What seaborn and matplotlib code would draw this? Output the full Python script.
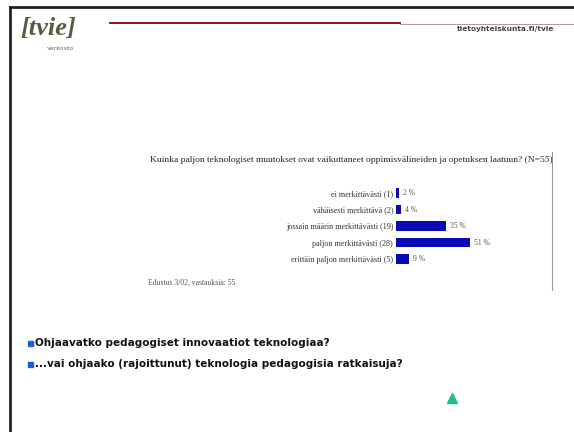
import matplotlib
matplotlib.use("Agg")
import matplotlib.pyplot as plt
import seaborn as sns
import pandas as pd
from matplotlib.lines import Line2D
from matplotlib.patches import Rectangle

# survey answers (counts and shown percentages)
categories = [
    "ei merkittävästi (1)",
    "vähäisesti merkittävä (2)",
    "jossain määrin merkittävästi (19)",
    "paljon merkittävästi (28)",
    "erittäin paljon merkittävästi (5)",
]
counts = [1, 2, 19, 28, 5]
pct_labels = ["2 %", "4 %", "35 %", "51 %", "9 %"]

chart_title = ("Kuinka paljon teknologiset muutokset ovat vaikuttaneet "
               "oppimisvälineiden ja opetuksen laatuun? (N=55)")
chart_note = "Edustus 3/02, vastauksia: 55"
bullets = [
    "Ohjaavatko pedagogiset innovaatiot teknologiaa?",
    "...vai ohjaako (rajoittunut) teknologia pedagogisia ratkaisuja?",
]

df = pd.DataFrame({"vastaus": categories, "n": counts})

W, H = 574, 432
fig = plt.figure(figsize=(W / 100, H / 100), dpi=100)
fig.patch.set_facecolor("white")


def fx(px):
    return px / W


def fy(py):
    return 1 - py / H


# slide frame
fig.add_artist(Line2D([fx(10), fx(10)], [fy(7), 0], color="#222222", lw=2))
fig.add_artist(Line2D([fx(10), 1], [fy(7), fy(7)], color="#222222", lw=2))

# header: logo, red rule, right caption
fig.text(fx(20), fy(29), "[tvie]", fontsize=19, fontweight="bold", style="italic",
         family="Liberation Serif", color="#5a5a40", va="center", ha="left")
fig.text(fx(60), fy(48), "verkosto", fontsize=4.5, color="#666655", va="center", ha="center")
fig.add_artist(Line2D([fx(110), fx(400)], [fy(23), fy(23)], color="#8b1515", lw=1.4))
fig.add_artist(Line2D([fx(400), 1], [fy(24), fy(24)], color="#b08080", lw=0.6))
fig.text(fx(506), fy(29), "tietoyhteiskunta.fi/tvie", fontsize=5.3, fontweight="bold",
         color="#444444", va="center", ha="center")

# embedded chart title, note and frame line
fig.text(fx(150), fy(160), chart_title, fontsize=6.8, family="Liberation Serif",
         color="#222222", va="center", ha="left")
fig.text(fx(148), fy(283), chart_note, fontsize=5.5, family="Liberation Serif",
         color="#555555", va="center", ha="left")
fig.add_artist(Line2D([fx(552), fx(552)], [fy(152), fy(290)], color="#999999", lw=0.8))

# bar chart
ax = fig.add_axes([fx(396), fy(267.25), fx(150), 82.5 / H])
sns.barplot(data=df, y="vastaus", x="n", orient="h", color="#0a0ab4",
            width=0.58, ax=ax, saturation=1)
ax.set_xlim(0, 28 * 150 / 74)
ax.set_ylim(4.5, -0.5)
ax.set_xlabel("")
ax.set_ylabel("")
ax.set_xticks([])
for s in ax.spines.values():
    s.set_visible(False)
ax.tick_params(axis="y", length=0, pad=2)
for lab in ax.get_yticklabels():
    lab.set_fontsize(5.9)
    lab.set_family("Liberation Serif")
    lab.set_color("#333333")
ax.patch.set_alpha(0)
for i, (c, t) in enumerate(zip(counts, pct_labels)):
    ax.annotate(t, (c, i), xytext=(3, 0), textcoords="offset points",
                va="center", ha="left", fontsize=5.5, color="#555555",
                family="Liberation Serif")

# bullet points
for i, b in enumerate(bullets):
    y = 343 + i * 21
    fig.add_artist(Rectangle((fx(28), fy(y + 3)), fx(5), 5 / H, color="#1a5fd8"))
    fig.text(fx(35), fy(y), b, fontsize=7.45, fontweight="bold", color="#111111",
             va="center", ha="left")

# green triangle marker
fig.add_artist(Line2D([fx(452)], [fy(398)], marker="^", markersize=7,
                      color="#19c08e", lw=0))

fig.savefig("out.png", dpi=100)
